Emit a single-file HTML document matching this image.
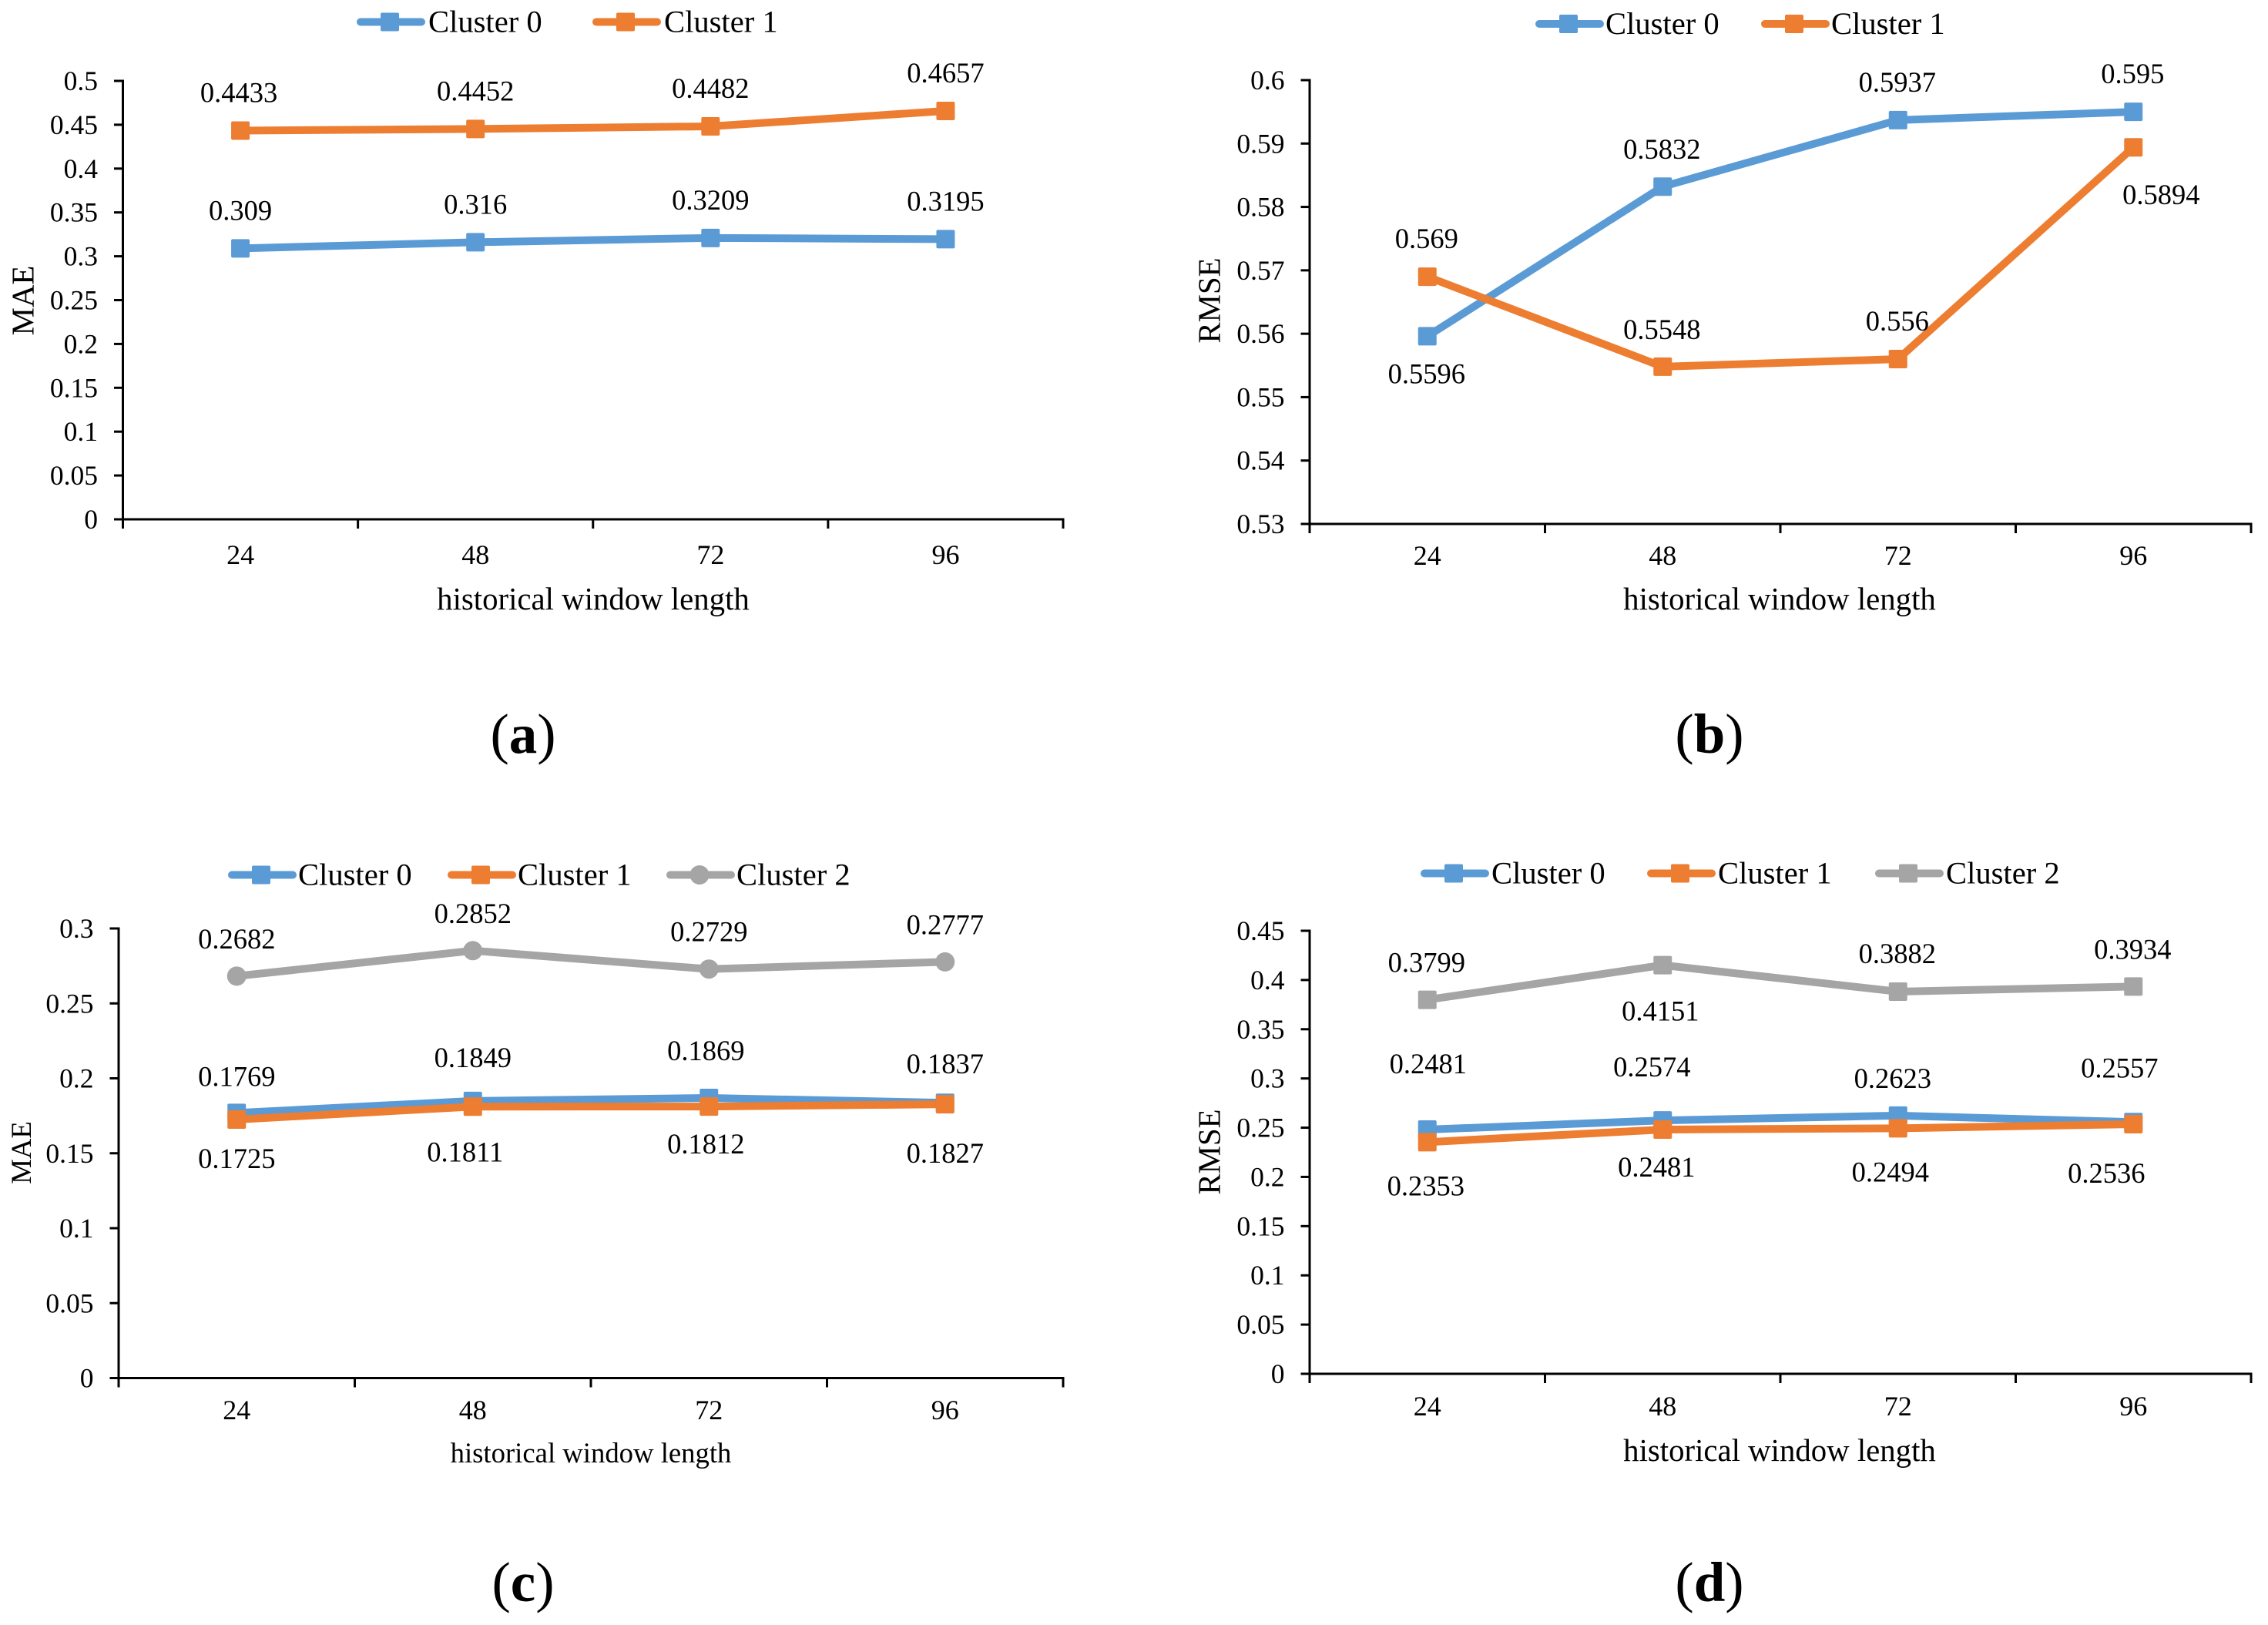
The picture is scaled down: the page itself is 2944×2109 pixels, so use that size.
<!DOCTYPE html>
<html lang="en">
<head>
<meta charset="utf-8">
<title>Cluster error by historical window length</title>
<style>
html,body{margin:0;padding:0;background:#fff;}
svg{display:block;}
text{font-family:"Liberation Serif","Times New Roman",serif;fill:#000;}
</style>
</head>
<body>
<svg id="figure" xmlns="http://www.w3.org/2000/svg" width="2944" height="2109" viewBox="0 0 2944 2109"></svg>
<script>
// ---- data ----
const categories = ["24", "48", "72", "96"];

const maeTwoCluster0 = [0.309, 0.316, 0.3209, 0.3195];
const maeTwoCluster1 = [0.4433, 0.4452, 0.4482, 0.4657];
const maeTwoTicks = ["0", "0.05", "0.1", "0.15", "0.2", "0.25", "0.3", "0.35", "0.4", "0.45", "0.5"];

const rmseTwoCluster0 = [0.5596, 0.5832, 0.5937, 0.595];
const rmseTwoCluster1 = [0.569, 0.5548, 0.556, 0.5894];
const rmseTwoTicks = ["0.53", "0.54", "0.55", "0.56", "0.57", "0.58", "0.59", "0.6"];

const maeThreeCluster0 = [0.1769, 0.1849, 0.1869, 0.1837];
const maeThreeCluster1 = [0.1725, 0.1811, 0.1812, 0.1827];
const maeThreeCluster2 = [0.2682, 0.2852, 0.2729, 0.2777];
const maeThreeTicks = ["0", "0.05", "0.1", "0.15", "0.2", "0.25", "0.3"];

const rmseThreeCluster0 = [0.2481, 0.2574, 0.2623, 0.2557];
const rmseThreeCluster1 = [0.2353, 0.2481, 0.2494, 0.2536];
const rmseThreeCluster2 = [0.3799, 0.4151, 0.3882, 0.3934];
const rmseThreeTicks = ["0", "0.05", "0.1", "0.15", "0.2", "0.25", "0.3", "0.35", "0.4", "0.45"];

// ---- layout ----
const BLUE = "#5B9BD5", ORANGE = "#ED7D31", GREY = "#A5A5A5";
const panels = [
  { id: "a", yTitle: "MAE", left: 159.5, right: 1380, top: 105, bottom: 674, ticks: maeTwoTicks,
    yTitleX: 30, yTitleY: 390, titleSize: 40.8, xTitleX: 770, xTitleY: 791, catY: 732,
    capX: 679, capY: 977, legendY: 28.5, legendGap: 92,
    series: [
      { name: "Cluster 0", values: maeTwoCluster0, color: BLUE, marker: "square", legendX: 464, labelNudge: [[0,-48],[0,-48],[0,-48],[0,-48]] },
      { name: "Cluster 1", values: maeTwoCluster1, color: ORANGE, marker: "square", legendX: 770, labelNudge: [[-2,-48],[0,-48],[0,-48],[0,-48]] }
    ] },
  { id: "b", yTitle: "RMSE", left: 1700, right: 2922, top: 104, bottom: 680, ticks: rmseTwoTicks,
    yTitleX: 1570, yTitleY: 390, titleSize: 40.8, xTitleX: 2310, xTitleY: 791, catY: 733,
    capX: 2219, capY: 977, legendY: 31, legendGap: 90,
    series: [
      { name: "Cluster 0", values: rmseTwoCluster0, color: BLUE, marker: "square", legendX: 1994, labelNudge: [[-1,50],[-1,-47],[-1,-48],[-1,-48]] },
      { name: "Cluster 1", values: rmseTwoCluster1, color: ORANGE, marker: "square", legendX: 2287, labelNudge: [[-1,-48],[-1,-47],[-1,-48],[36,63]] }
    ] },
  { id: "c", yTitle: "MAE", left: 154, right: 1380, top: 1205, bottom: 1788.5, ticks: maeThreeTicks,
    yTitleX: 28, yTitleY: 1496, titleSize: 36.7, xTitleX: 767, xTitleY: 1898, catY: 1842,
    capX: 679, capY: 2078, legendY: 1135.5, legendGap: 90,
    series: [
      { name: "Cluster 0", values: maeThreeCluster0, color: BLUE, marker: "square", legendX: 297, labelNudge: [[0,-46],[0,-55],[-4,-60],[0,-49]] },
      { name: "Cluster 1", values: maeThreeCluster1, color: ORANGE, marker: "square", legendX: 582, labelNudge: [[0,52],[-10,60],[-4,50],[0,65]] },
      { name: "Cluster 2", values: maeThreeCluster2, color: GREY, marker: "circle", legendX: 866, labelNudge: [[0,-47],[0,-47],[0,-47],[0,-47]] }
    ] },
  { id: "d", yTitle: "RMSE", left: 1700, right: 2922, top: 1208, bottom: 1783, ticks: rmseThreeTicks,
    yTitleX: 1570, yTitleY: 1495, titleSize: 40.8, xTitleX: 2310, xTitleY: 1896, catY: 1837,
    capX: 2219, capY: 2078, legendY: 1133.5, legendGap: 91,
    series: [
      { name: "Cluster 0", values: rmseThreeCluster0, color: BLUE, marker: "square", legendX: 1845, labelNudge: [[1,-84],[-14,-68],[-7,-47],[-18,-69]] },
      { name: "Cluster 1", values: rmseThreeCluster1, color: ORANGE, marker: "square", legendX: 2139, labelNudge: [[-2,58],[-8,50],[-10,58],[-35,65]] },
      { name: "Cluster 2", values: rmseThreeCluster2, color: GREY, marker: "square", legendX: 2435, labelNudge: [[-1,-47],[-3,61],[-1,-48],[-1,-47]] }
    ] }
];

// ---- drawing ----
const NS = "http://www.w3.org/2000/svg";
const root = document.getElementById("figure");

function make(tag, parent, attrs, content) {
  const el = document.createElementNS(NS, tag);
  for (const k in attrs) el.setAttribute(k, attrs[k]);
  if (content !== undefined) el.textContent = content;
  parent.appendChild(el);
  return el;
}

function drawMarker(parent, kind, cx, cy, color) {
  let el;
  if (kind === "circle") {
    el = make("circle", parent, { cx: cx, cy: cy, r: 12.5, fill: color });
  } else {
    el = make("rect", parent, { x: cx - 12, y: cy - 12, width: 24, height: 24, rx: 2, fill: color });
  }
  return el;
}

panels.forEach(function (p) {
  const domainMin = parseFloat(p.ticks[0]);
  const domainMax = parseFloat(p.ticks[p.ticks.length - 1]);
  const band = (p.right - p.left) / categories.length;
  const xScale = function (i) { return p.left + band * (i + 0.5); };
  const yScale = function (v) { return p.bottom - (v - domainMin) / (domainMax - domainMin) * (p.bottom - p.top); };

  const g = make("g", root, {});
  
  

  // y axis
  const yAxis = make("line", g, { x1: p.left, x2: p.left, y1: p.top - 1.5, y2: p.bottom + 1.5, stroke: "#000", "stroke-width": 3 });
  
  
  p.ticks.forEach(function (t) {
    const y = yScale(parseFloat(t));
    const mark = make("line", g, { x1: p.left - 11.5, x2: p.left, y1: y, y2: y, stroke: "#000", "stroke-width": 3 });
    
    
    const lab = make("text", g, { x: p.left - 32.5, y: y + 12, "text-anchor": "end", "font-size": 35.5 }, t);
    
    
  });

  // x axis
  const xAxis = make("line", g, { x1: p.left - 1.5, x2: p.right + 1.5, y1: p.bottom, y2: p.bottom, stroke: "#000", "stroke-width": 3 });
  
  
  for (let i = 0; i <= categories.length; i++) {
    const x = p.left + band * i;
    const mark = make("line", g, { x1: x, x2: x, y1: p.bottom, y2: p.bottom + 12, stroke: "#000", "stroke-width": 3 });
    
    
  }
  categories.forEach(function (c, i) {
    const lab = make("text", g, { x: xScale(i), y: p.catY, "text-anchor": "middle", "font-size": 36 }, c);
    
    
  });

  // axis titles
  const xt = make("text", g, { x: p.xTitleX, y: p.xTitleY, "text-anchor": "middle", "font-size": p.titleSize }, "historical window length");
  
  
  const yt = make("text", g, { x: 0, y: 0, "text-anchor": "middle", "font-size": p.titleSize,
    transform: "translate(" + (p.yTitleX + p.titleSize * 0.33) + "," + p.yTitleY + ") rotate(-90)" }, p.yTitle);
  
  

  // series
  p.series.forEach(function (s) {
    const sg = make("g", g, {});
    
    
    const pts = s.values.map(function (v, i) { return xScale(i) + "," + yScale(v); }).join(" ");
    const line = make("polyline", sg, { points: pts, fill: "none", stroke: s.color, "stroke-width": 10, "stroke-linejoin": "round", "stroke-linecap": "round" });
    
    
    s.values.forEach(function (v, i) {
      const m = drawMarker(sg, s.marker, xScale(i), yScale(v), s.color);
      
      
    });
  });

  // value labels
  p.series.forEach(function (s) {
    s.values.forEach(function (v, i) {
      const n = s.labelNudge[i];
      const lab = make("text", g, { x: xScale(i) + n[0], y: yScale(v) + n[1] + 11, "text-anchor": "middle", "font-size": 36.5 }, String(v));
      
      
    });
  });

  // legend
  p.series.forEach(function (s) {
    const lg = make("g", g, {});
    
    
    const x0 = s.legendX;
    const sw = make("line", lg, { x1: x0 + 4, x2: x0 + 83, y1: p.legendY, y2: p.legendY, stroke: s.color, "stroke-width": 10, "stroke-linecap": "round" });
    
    
    const mk = drawMarker(lg, s.marker, x0 + 42, p.legendY, s.color);
    
    
    const lt = make("text", lg, { x: x0 + p.legendGap, y: p.legendY + 13, "font-size": 40.6 }, s.name);
    
    
  });

  // panel caption
  const cap = make("text", g, { x: p.capX, y: p.capY, "text-anchor": "middle", "font-size": 73 });
  
  
  make("tspan", cap, {}, "(");
  make("tspan", cap, { "font-weight": "bold" }, p.id);
  make("tspan", cap, {}, ")");
});
</script>
</body>
</html>
